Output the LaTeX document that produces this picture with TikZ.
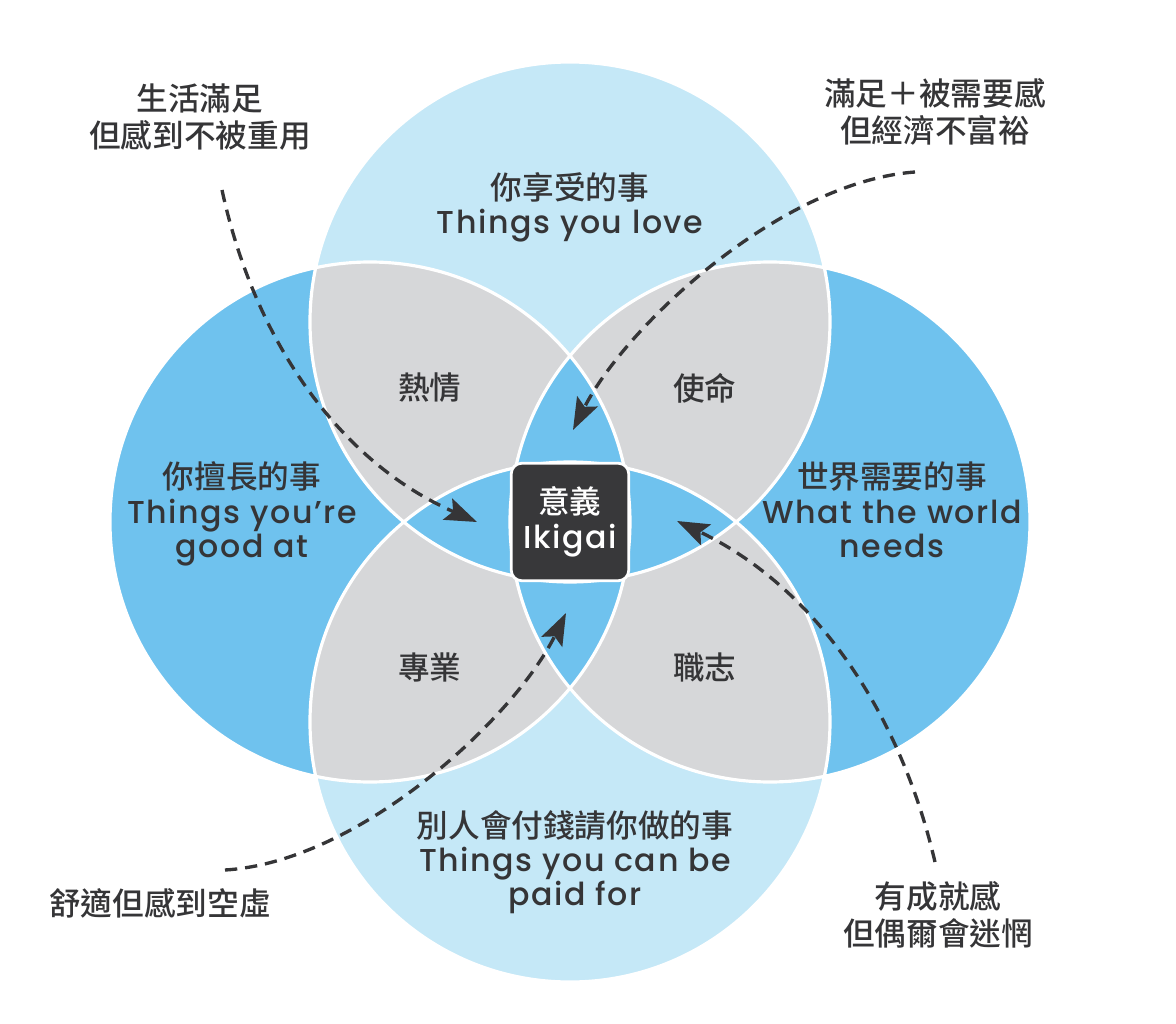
\documentclass[tikz,border=0pt]{standalone}
\usepackage{fontspec}
\setmainfont{Poppins Medium}[LetterSpace=5]
\newfontfamily\cjk{Noto Sans CJK TC Medium}
\usetikzlibrary{arrows.meta,positioning}

\definecolor{lovebg}{HTML}{C5E8F7}
\definecolor{skillbg}{HTML}{6FC2EE}
\definecolor{overlapbg}{HTML}{D6D7D9}
\definecolor{inkgray}{HTML}{353537}
\definecolor{corebg}{HTML}{38383A}

\begin{document}
\begin{tikzpicture}[
    every node/.style={text=inkgray, align=center, inner sep=0pt, font=\fontsize{18}{19.5}\selectfont},
    ring/.style={draw=white, line width=1.8pt},
    pairtext/.style={font=\cjk\fontsize{18}{19.5}\selectfont},
    sidetext/.style={font=\cjk\fontsize{18}{21}\selectfont},
    corebox/.style={rectangle, fill=corebg, draw=white, line width=1.6pt, rounded corners=6pt, minimum size=2.35cm, text=white, font=\fontsize{18}{20}\selectfont},
    pathline/.style={draw=inkgray, line width=1.9pt, dash pattern=on 7pt off 4.5pt, -{Stealth[length=0.64cm, width=0.46cm, inset=0.12cm]}}
]
    \useasboundingbox (-11.4,-10.02) rectangle (12.12,10.44);
    \def\circR{5.2}

    % four circles and their overlaps
    \fill[lovebg] (0,4) circle (\circR) (0,-4) circle (\circR);
    \fill[skillbg] (-4,0) circle (\circR) (4,0) circle (\circR);
    \begin{scope}
        \clip (0,4) circle (\circR) (0,-4) circle (\circR);
        \fill[overlapbg] (-4,0) circle (\circR) (4,0) circle (\circR);
    \end{scope}
    \begin{scope}
        \clip (-4,0) circle (\circR);
        \fill[skillbg] (4,0) circle (\circR);
    \end{scope}
    \begin{scope}
        \clip (0,4) circle (\circR);
        \fill[skillbg] (0,-4) circle (\circR);
    \end{scope}
    \draw[ring] (0,4) circle (\circR) (0,-4) circle (\circR) (-4,0) circle (\circR) (4,0) circle (\circR);

    % circle labels
    \node (love) at (0,6.3) {{\cjk 你享受的事}\\Things you love};
    \node (goodat) at (-6.56,0.16) {{\cjk 你擅長的事}\\Things you're\\good at};
    \node (world) at (6.44,0.24) {{\cjk 世界需要的事}\\What the world\\needs};
    \node (paid) at (0.1,-6.8) {{\cjk 別人會付錢請你做的事}\\Things you can be\\paid for};

    \node[pairtext] (passion) at (-2.8,2.68) {熱情};
    \node[pairtext] (mission) at (2.7,2.68) {使命};
    \node[pairtext] (profession) at (-2.8,-2.9) {專業};
    \node[pairtext] (vocation) at (2.7,-2.9) {職志};

    \node[corebox] (ikigai) at (0,0) {{\cjk 意義}\\Ikigai};

    % outside notes
    \node[sidetext] (lifeA) at (-7.4,8.1) {生活滿足\\但感到不被重用};
    \node[sidetext] (needA) at (7.3,8.2) {滿足＋被需要感\\但經濟不富裕};
    \node[sidetext] (emptyA) at (-8.2,-7.62) {舒適但感到空虛};
    \node[sidetext] (lostA) at (7.36,-7.86) {有成就感\\但偶爾會迷惘};

    \coordinate (lifeS) at (-6.96,6.64);
    \coordinate (lifeE) at (-1.86,0);
    \coordinate (needS) at (6.9,7.0);
    \coordinate (needE) at (0.06,1.84);
    \coordinate (emptyS) at (-6.9,-6.96);
    \coordinate (emptyE) at (-0.08,-1.82);
    \coordinate (lostS) at (7.3,-6.8);
    \coordinate (lostE) at (2.14,0.02);

    \draw[pathline] (lifeS) .. controls (-6.3,3.6) and (-4.6,1.2) .. (lifeE);
    \draw[pathline] (needS) .. controls (4.2,6.8) and (1.1,3.9) .. (needE);
    \draw[pathline] (emptyS) .. controls (-4.2,-6.8) and (-1.1,-3.9) .. (emptyE);
    \draw[pathline] (lostS) .. controls (6.6,-3.8) and (4.9,-1.3) .. (lostE);
\end{tikzpicture}
\end{document}
